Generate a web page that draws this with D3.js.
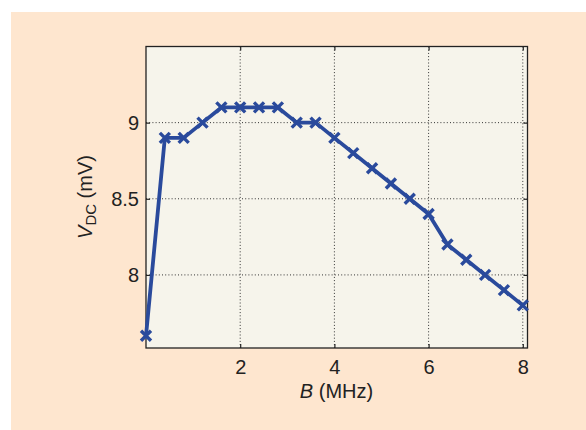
<!DOCTYPE html>
<html><head><meta charset="utf-8">
<script src="https://cdn.jsdelivr.net/npm/d3@7"></script>
<style>body{margin:0;background:#fff}svg{display:block}text{font-family:"Liberation Sans",Arial,sans-serif;fill:#222}</style>
</head><body>
<svg id="c" width="586" height="430"></svg>
<script>
const bandwidthMHz = [0,0.4,0.8,1.2,1.6,2.0,2.4,2.8,3.2,3.6,4.0,4.4,4.8,5.2,5.6,6.0,6.4,6.8,7.2,7.6,8.0];
const vdcMilliVolts = [7.6,8.9,8.9,9.0,9.1,9.1,9.1,9.1,9.0,9.0,8.9,8.8,8.7,8.6,8.5,8.4,8.2,8.1,8.0,7.9,7.8];
const xTicks = [2,4,6,8];
const yTicks = [8,8.5,9];

const svg = d3.select("#c");
svg.append("rect").attr("x",11).attr("y",12).attr("width",575).attr("height",418).attr("fill","#fee6cf");

const L=146,T=46.5,R=527.5,B=348;
const x = d3.scaleLinear().domain([0,8.1]).range([L,R]);
const y = d3.scaleLinear().domain([7.52,9.5]).range([B,T]);

svg.append("rect").attr("x",L).attr("y",T).attr("width",R-L).attr("height",B-T).attr("fill","#f6f4eb");

const g = svg.append("g");
g.selectAll(".gx").data(xTicks).join("line")
  .attr("x1",d=>x(d)).attr("x2",d=>x(d)).attr("y1",T).attr("y2",B)
  .attr("stroke","#333").attr("stroke-width",1).attr("stroke-dasharray","1,2.2");
g.selectAll(".gy").data(yTicks).join("line")
  .attr("y1",d=>y(d)).attr("y2",d=>y(d)).attr("x1",L).attr("x2",R)
  .attr("stroke","#333").attr("stroke-width",1).attr("stroke-dasharray","1,2.2");

const ax = svg.append("g").attr("transform",`translate(0,${B})`)
  .call(d3.axisBottom(x).tickValues(xTicks).tickSizeInner(-4).tickSizeOuter(0).tickPadding(12).tickFormat(d3.format("d")));
const axT = svg.append("g").attr("transform",`translate(0,${T})`)
  .call(d3.axisTop(x).tickValues(xTicks).tickSizeInner(-4).tickSizeOuter(0).tickFormat(""));
const ay = svg.append("g").attr("transform",`translate(${L},0)`)
  .call(d3.axisLeft(y).tickValues(yTicks).tickSizeInner(-4).tickSizeOuter(0).tickPadding(7).tickFormat(d=>d3.format("")(d)));
const ayR = svg.append("g").attr("transform",`translate(${R},0)`)
  .call(d3.axisRight(y).tickValues(yTicks).tickSizeInner(-4).tickSizeOuter(0).tickFormat(""));
[ax,axT,ay,ayR].forEach(a=>{
  a.attr("font-size",null);
  a.select(".domain").remove();
  a.selectAll(".tick line").attr("stroke","#222").attr("stroke-width",1.2);
  a.selectAll("text").style("font-size","20px").attr("fill","#222").style("font-family","Liberation Sans, Arial, sans-serif");
});
svg.append("rect").attr("x",L).attr("y",T).attr("width",R-L).attr("height",B-T)
  .attr("fill","none").attr("stroke","#222").attr("stroke-width",1.3);

const line = d3.line().x((d,i)=>x(bandwidthMHz[i])).y(d=>y(d));
svg.append("path").datum(vdcMilliVolts).attr("d",line)
  .attr("fill","none").attr("stroke","#2a4a9c").attr("stroke-width",3.8).attr("stroke-linejoin","round");
const s=5;
svg.append("g").selectAll("path").data(vdcMilliVolts).join("path")
  .attr("d",(d,i)=>{const cx=x(bandwidthMHz[i]),cy=y(d);return `M${cx-s},${cy-s}L${cx+s},${cy+s}M${cx-s},${cy+s}L${cx+s},${cy-s}`;})
  .attr("stroke","#2a4a9c").attr("stroke-width",3.4);

const xl = svg.append("text").attr("x",336.5).attr("y",398).attr("text-anchor","middle").style("font-size","20px");
xl.append("tspan").attr("font-style","italic").text("B");
xl.append("tspan").text(" (MHz)");

const yl = svg.append("text").attr("transform","translate(92,197) rotate(-90)").attr("text-anchor","middle").style("font-size","20px");
yl.append("tspan").attr("font-style","italic").text("V");
yl.append("tspan").style("font-size","15px").attr("dy",4).text("DC");
yl.append("tspan").attr("dy",-4).text(" (mV)");
</script>
</body></html>
